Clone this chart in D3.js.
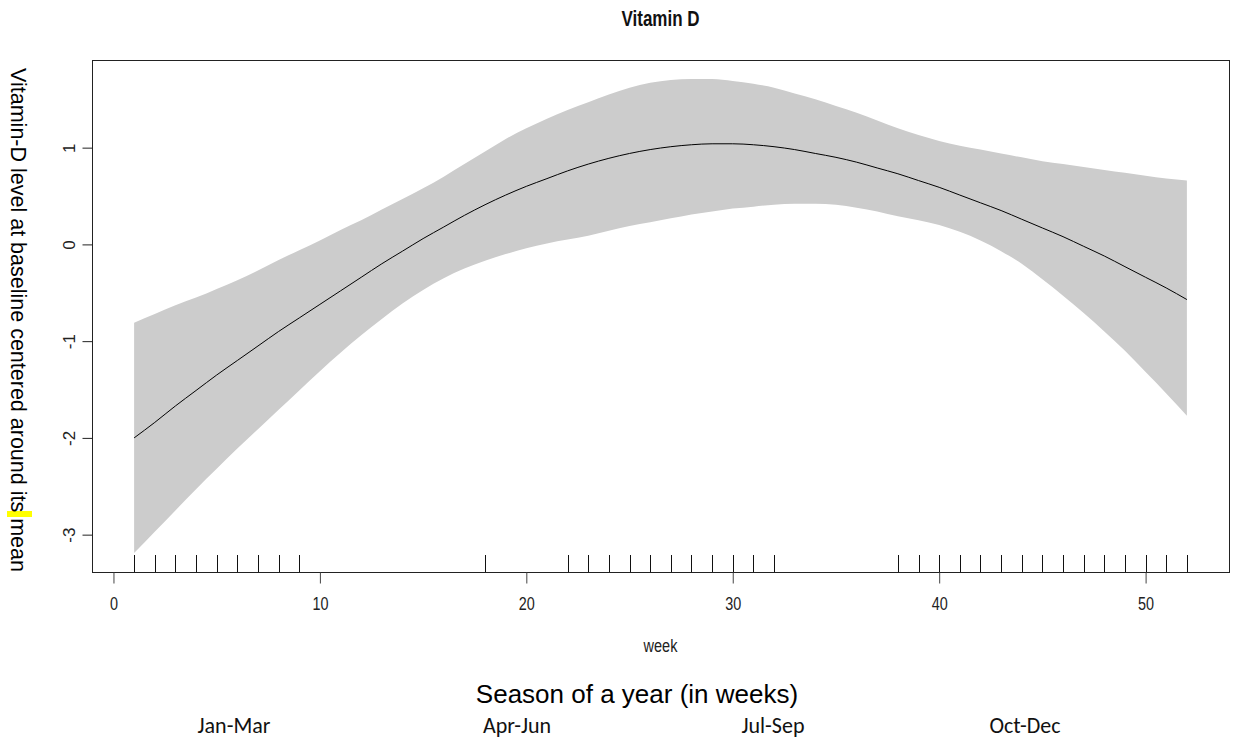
<!DOCTYPE html>
<html>
<head>
<meta charset="utf-8">
<script src="https://cdn.jsdelivr.net/npm/d3@7"></script>
<style>
  body { margin: 0; background: #fff; }
  svg { display: block; }
</style>
</head>
<body>
<svg></svg>
<script>
const WIDTH = 1234;
const HEIGHT = 742;

// plot box in pixels
const boxL = 92;
const boxR = 1229;
const boxT = 60;
const boxB = 572;

// the R output is stretched vertically, so its text is drawn squeezed
const stretch = 1.26;

const sansFont = "'Liberation Sans', Arial, Helvetica, sans-serif";
const labelFont = "Carlito, Calibri, Lato, 'Open Sans', sans-serif";

// data
const weeks = [1, 2, 3, 4, 5, 6, 7, 8, 9, 10, 11, 12, 13, 14, 15, 16, 17, 18, 19, 20,
  21, 22, 23, 24, 25, 26, 27, 28, 29, 30, 31, 32, 33, 34, 35, 36, 37, 38, 39, 40,
  41, 42, 43, 44, 45, 46, 47, 48, 49, 50, 51, 52];

const fit = [-2.00, -1.84, -1.67, -1.51, -1.35, -1.20, -1.05, -0.90, -0.76, -0.62,
  -0.48, -0.34, -0.20, -0.07, 0.06, 0.18, 0.30, 0.41, 0.51, 0.60,
  0.68, 0.76, 0.83, 0.89, 0.94, 0.98, 1.01, 1.03, 1.04, 1.04,
  1.03, 1.01, 0.98, 0.94, 0.90, 0.85, 0.79, 0.73, 0.66, 0.59,
  0.51, 0.43, 0.35, 0.26, 0.17, 0.08, -0.02, -0.12, -0.23, -0.34,
  -0.45, -0.57];

const upper = [-0.81, -0.72, -0.63, -0.55, -0.46, -0.37, -0.27, -0.16, -0.06, 0.04,
  0.15, 0.25, 0.36, 0.47, 0.58, 0.70, 0.83, 0.96, 1.09, 1.20,
  1.30, 1.39, 1.47, 1.55, 1.62, 1.67, 1.70, 1.71, 1.71, 1.69,
  1.66, 1.62, 1.56, 1.50, 1.43, 1.36, 1.28, 1.20, 1.13, 1.07,
  1.02, 0.98, 0.94, 0.90, 0.86, 0.83, 0.80, 0.77, 0.74, 0.71,
  0.68, 0.66];

const lower = [-3.19, -2.97, -2.75, -2.53, -2.32, -2.11, -1.91, -1.71, -1.51, -1.31,
  -1.12, -0.94, -0.77, -0.61, -0.47, -0.35, -0.25, -0.17, -0.10, -0.04,
  0.01, 0.05, 0.09, 0.14, 0.19, 0.23, 0.27, 0.31, 0.34, 0.37,
  0.39, 0.41, 0.42, 0.42, 0.41, 0.38, 0.34, 0.29, 0.25, 0.20,
  0.13, 0.04, -0.07, -0.20, -0.36, -0.53, -0.71, -0.90, -1.10, -1.32,
  -1.54, -1.77];

// weeks with observations (rug)
const rugWeeks = [1, 2, 3, 4, 5, 6, 7, 8, 9, 18,
  22, 23, 24, 25, 26, 27, 28, 29, 30, 31, 32,
  38, 39, 40, 41, 42, 43, 44, 45, 46, 47, 48, 49, 50, 51, 52];

const xTicks = [0, 10, 20, 30, 40, 50];
const yTicks = [-3, -2, -1, 0, 1];
const seasons = ["Jan-Mar", "Apr-Jun", "Jul-Sep", "Oct-Dec"];
const seasonX = [234, 517, 773, 1025];

var svg = d3.select("svg").attr("width", WIDTH).attr("height", HEIGHT);

// R pads the data range by 4% on each side
var xPad = (52 - 1) * 0.04;
var x = d3.scaleLinear().domain([1 - xPad, 52 + xPad]).range([boxL, boxR]);

var yMin = d3.min(lower);
var yMax = d3.max(upper);
var yPad = (yMax - yMin) * 0.04;
var y = d3.scaleLinear().domain([yMin - yPad, yMax + yPad]).range([boxB, boxT]);

var rows = weeks.map((w, i) => ({ w: w, fit: fit[i], lo: lower[i], hi: upper[i] }));

// confidence band
var band = d3.area()
  .x((d) => x(d.w))
  .y0((d) => y(d.lo))
  .y1((d) => y(d.hi))
  .curve(d3.curveMonotoneX);

svg.append("path")
  .datum(rows)
  .attr("d", band)
  .attr("fill", "#cccccc")
  .attr("stroke", "none");

// fitted line
var line = d3.line()
  .x((d) => x(d.w))
  .y((d) => y(d.fit))
  .curve(d3.curveMonotoneX);

svg.append("path")
  .datum(rows)
  .attr("d", line)
  .attr("fill", "none")
  .attr("stroke", "#000")
  .attr("stroke-width", 1);

// rug
svg.selectAll("line.rug")
  .data(rugWeeks)
  .enter()
  .append("line")
  .attr("class", "rug")
  .attr("x1", (d) => Math.round(x(d)) + 0.5)
  .attr("x2", (d) => Math.round(x(d)) + 0.5)
  .attr("y1", boxB)
  .attr("y2", boxB - 17)
  .attr("stroke", "#111")
  .attr("stroke-width", 1);

// box
svg.append("rect")
  .attr("x", boxL + 0.5)
  .attr("y", boxT + 0.5)
  .attr("width", boxR - boxL)
  .attr("height", boxB - boxT)
  .attr("fill", "none")
  .attr("stroke", "#222")
  .attr("stroke-width", 1);

// x axis
var xAxis = d3.axisBottom(x)
  .tickValues(xTicks)
  .tickSize(11)
  .tickSizeOuter(0);

var gx = svg.append("g")
  .attr("transform", "translate(0," + (boxB + 0.5) + ")")
  .call(xAxis);
gx.select(".domain").remove();
gx.selectAll(".tick line").attr("stroke", "#444");
gx.selectAll(".tick text")
  .attr("y", null)
  .attr("dy", null)
  .attr("transform", "translate(0,37.5) scale(1," + stretch + ")")
  .attr("font-family", sansFont)
  .attr("font-size", 14.4)
  .attr("fill", "#222");

// y axis
var yAxis = d3.axisLeft(y)
  .tickValues(yTicks)
  .tickSize(10)
  .tickFormat((d) => d)
  .tickSizeOuter(0);

var gy = svg.append("g")
  .attr("transform", "translate(" + (boxL + 0.5) + ",0)")
  .call(yAxis);
gy.select(".domain").remove();
gy.selectAll(".tick line").attr("stroke", "#222");
gy.selectAll(".tick text")
  .attr("x", null)
  .attr("dy", null)
  .attr("transform", "translate(-18,0) rotate(-90)")
  .attr("text-anchor", "middle")
  .attr("font-family", sansFont)
  .attr("font-size", 17)
  .attr("fill", "#222");

// title
svg.append("text")
  .attr("transform", "translate(" + (boxL + boxR) / 2 + ",26) scale(1," + stretch + ")")
  .attr("text-anchor", "middle")
  .attr("font-family", sansFont)
  .attr("font-weight", "bold")
  .attr("font-size", 17)
  .attr("fill", "#111")
  .text("Vitamin D");

// x label from the plot
svg.append("text")
  .attr("transform", "translate(" + (boxL + boxR) / 2 + ",652) scale(1," + stretch + ")")
  .attr("text-anchor", "middle")
  .attr("font-family", sansFont)
  .attr("font-size", 14.5)
  .attr("fill", "#222")
  .text("week");

// yellow mark on the y label
svg.append("rect")
  .attr("x", 7)
  .attr("y", 511)
  .attr("width", 25)
  .attr("height", 6)
  .attr("fill", "#ffff00");

// y label
svg.append("text")
  .attr("transform", "translate(11,320) rotate(90)")
  .attr("text-anchor", "middle")
  .attr("font-family", sansFont)
  .attr("font-size", 21.5)
  .attr("fill", "#000")
  .text("Vitamin-D level at baseline centered around its mean");

// added x label
svg.append("text")
  .attr("x", 637)
  .attr("y", 703)
  .attr("text-anchor", "middle")
  .attr("font-family", sansFont)
  .attr("font-size", 26)
  .attr("fill", "#000")
  .text("Season of a year (in weeks)");

svg.selectAll("text.season")
  .data(seasons)
  .enter()
  .append("text")
  .attr("class", "season")
  .attr("x", (d, i) => seasonX[i])
  .attr("y", 733)
  .attr("text-anchor", "middle")
  .attr("font-family", labelFont)
  .attr("font-size", 22)
  .attr("fill", "#111")
  .text((d) => d);
</script>
</body>
</html>
